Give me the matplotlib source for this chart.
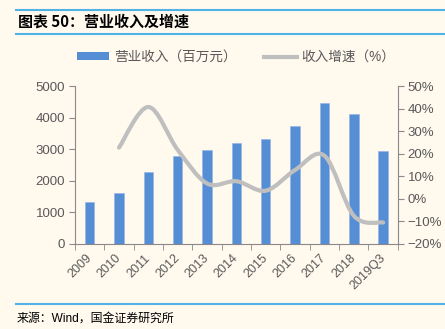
import numpy as np
import matplotlib
matplotlib.use("Agg")
import matplotlib.pyplot as plt
from matplotlib.path import Path
from matplotlib.patches import PathPatch, Patch
from matplotlib.lines import Line2D

plt.rcParams['font.family'] = ['Liberation Sans', 'Noto Sans CJK SC', 'DejaVu Sans']
plt.rcParams['axes.unicode_minus'] = True

# data
years = ['2009', '2010', '2011', '2012', '2013', '2014', '2015', '2016', '2017', '2018', '2019Q3']
revenue = [1320, 1620, 2280, 2775, 2965, 3195, 3310, 3735, 4450, 4115, 2950]
growth = [np.nan, 22.7, 40.7, 21.7, 6.8, 7.8, 3.6, 12.8, 19.1, -7.5, -10.5]

bg = '#FFF9EE'
bar_blue = '#558ED5'
line_gray = '#BFBFBF'
axis_gray = '#898989'
text_gray = '#595959'
rule_blue = '#4FB3E6'

fig = plt.figure(figsize=(4.45, 3.29), dpi=100)
fig.patch.set_facecolor(bg)
ax = fig.add_axes([0.1685, 0.2584, 0.7255, 0.4802])
ax.set_facecolor(bg)
ax2 = ax.twinx()

x = np.arange(len(years))
ax.bar(x, revenue, width=0.32, color=bar_blue, edgecolor='#8FB4E6', linewidth=0.4, zorder=2)
ax.set_xlim(-0.5, len(years) - 0.5)
ax.set_ylim(0, 5000)
ax.set_yticks(range(0, 5001, 1000))

# smoothed growth line (excel-style bezier through the points)
pts = [(xi, g) for xi, g in zip(x, growth) if not np.isnan(g)]
pts = np.array(pts, dtype=float)
verts = [tuple(pts[0])]
codes = [Path.MOVETO]
n = len(pts)
for i in range(n - 1):
    p0 = pts[i - 1] if i > 0 else pts[i]
    p1 = pts[i]
    p2 = pts[i + 1]
    p3 = pts[i + 2] if i + 2 < n else pts[i + 1]
    c1 = p1 + (p2 - p0) / 6.0
    c2 = p2 - (p3 - p1) / 6.0
    verts += [tuple(c1), tuple(c2), tuple(p2)]
    codes += [Path.CURVE4] * 3
ax2.add_patch(PathPatch(Path(verts, codes), facecolor='none', edgecolor=line_gray,
                        linewidth=3, capstyle='round', joinstyle='round', zorder=3))
ax2.set_ylim(-20, 50)
ax2.set_yticks(range(-20, 51, 10))
ax2.set_yticklabels([f'{v}%'.replace('-', '\u2212') for v in range(-20, 51, 10)])

# spines and ticks
for a in (ax, ax2):
    a.spines['top'].set_visible(False)
    for s in a.spines.values():
        s.set_color(axis_gray)
        s.set_linewidth(0.8)
ax.spines['right'].set_visible(False)
ax2.spines['left'].set_visible(False)
ax2.spines['bottom'].set_visible(False)

ax.set_xticks(x)
ax.set_xticklabels(years, rotation=45, ha='right', va='center', rotation_mode='anchor',
                   color=text_gray, fontsize=9)
ax.tick_params(axis='x', which='major', length=0, pad=9)
ax.set_xticks(np.arange(-0.5, len(years), 1), minor=True)
ax.tick_params(axis='x', which='minor', length=4, color=axis_gray, direction='out')
ax.tick_params(axis='y', length=4, color=axis_gray, labelcolor=text_gray, labelsize=9.5, pad=3)
ax2.tick_params(axis='y', length=4, color=axis_gray, labelcolor=text_gray, labelsize=9.5, pad=3)

# legend
handles = [Patch(facecolor=bar_blue, edgecolor='none'),
           Line2D([0], [0], color=line_gray, linewidth=3)]
fig.legend(handles, ['营业收入（百万元）', '收入增速（%）'], loc='center',
           bbox_to_anchor=(0.53, 0.827), ncol=2, frameon=False, fontsize=9.8,
           labelcolor=text_gray, handlelength=2.4, handleheight=0.5,
           handletextpad=0.35, columnspacing=2.0)

# title, rules, source
fig.add_artist(Line2D([0.036, 1.0], [0.9696, 0.9696], color=rule_blue, linewidth=1.5))
fig.add_artist(Line2D([0.036, 1.0], [0.8967, 0.8967], color=rule_blue, linewidth=1.5))
fig.add_artist(Line2D([0.036, 1.0], [0.076, 0.076], color=rule_blue, linewidth=1.5))
fig.text(0.04, 0.933, '图表 50：营业收入及增速', fontsize=10.8, fontweight='bold',
         color='black', ha='left', va='center', family=['Noto Sans CJK SC', 'DejaVu Sans'])
fig.text(0.038, 0.033, '来源：Wind，国金证券研究所', fontsize=8.6, color='black',
         ha='left', va='center')

fig.savefig('out.png', dpi=100, facecolor=bg)
